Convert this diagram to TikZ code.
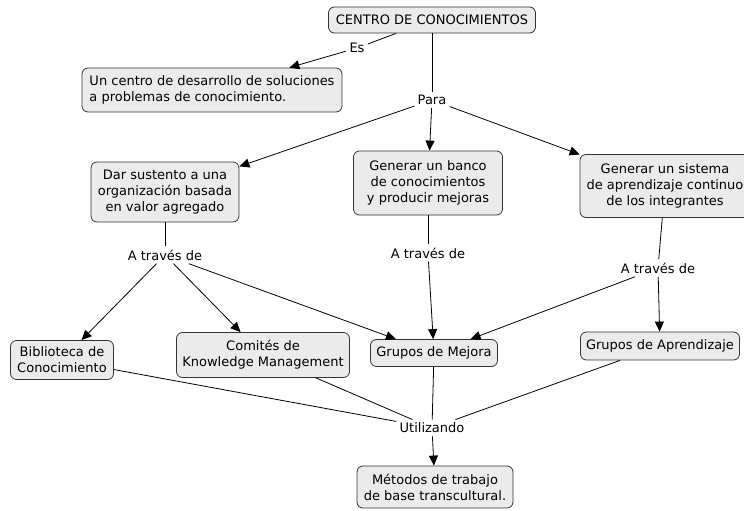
\documentclass[tikz,border=0pt]{standalone}
\usepackage{fontspec}
\setmainfont{DejaVu Sans}
\usetikzlibrary{arrows.meta}
\tikzset{
  concept/.style={draw=black!80, fill=black!8, rounded corners=6pt, align=center,
    inner xsep=4pt, inner ysep=4pt, line width=0.8pt},
  link/.style={inner sep=3pt},
  arr/.style={-{Triangle[length=10pt,width=9pt]}},
}
\begin{document}
\begin{tikzpicture}[x=1pt,y=-1pt, line width=0.8pt, font=\fontsize{13}{16}\selectfont]
  \useasboundingbox (0,0) rectangle (744,511);
  \node[concept, minimum width=207pt, minimum height=26pt] (centro) at (432,20) {CENTRO DE CONOCIMIENTOS};
  \node[link] (es) at (357,48) {Es};
  \node[concept, align=left, minimum width=260pt, minimum height=44pt] (cdes) at (212,90) {Un centro de desarrollo de soluciones\\a problemas de conocimiento.};
  \node[link] (para) at (432,100) {Para};
  \node[concept, minimum width=148pt, minimum height=60pt] (dar) at (165,192) {Dar sustento a una\\organización basada\\en valor agregado};
  \node[concept, minimum width=149pt, minimum height=64pt] (banco) at (428,183) {Generar un banco\\de conocimientos\\y producir mejoras};
  \node[concept, minimum width=170pt, minimum height=63pt] (sist) at (665,186) {Generar un sistema\\de aprendizaje continuo\\de los integrantes};
  \node[link] (at1) at (165,255) {A través de};
  \node[link] (at2) at (428,253) {A través de};
  \node[link] (at3) at (658,268) {A través de};
  \node[concept, minimum width=103pt, minimum height=39pt] (biblio) at (62,360) {Biblioteca de\\Conocimiento};
  \node[concept, minimum width=173pt, minimum height=45pt] (comite) at (263,355) {Comités de\\Knowledge Management};
  \node[concept, minimum width=127pt, minimum height=27pt] (mejora) at (434,353) {Grupos de Mejora};
  \node[concept, minimum width=159pt, minimum height=28pt] (aprend) at (660,346) {Grupos de Aprendizaje};
  \node[link] (util) at (432,428) {Utilizando};
  \node[concept, minimum width=156pt, minimum height=42pt] (metodo) at (435,487) {Métodos de trabajo\\de base transcultural.};

  \draw (centro) -- (es);
  \draw[arr] (es) -- (cdes);
  \draw (centro) -- (para);
  \draw[arr] (para) -- (dar);
  \draw[arr] (para) -- (banco);
  \draw[arr] (para) -- (sist);
  \draw (dar) -- (at1);
  \draw[arr] (at1) -- (biblio);
  \draw[arr] (at1) -- (comite);
  \draw[arr] (at1) -- (mejora);
  \draw (banco) -- (at2);
  \draw[arr] (at2) -- (mejora);
  \draw (sist) -- (at3);
  \draw[arr] (at3) -- (mejora);
  \draw[arr] (at3) -- (aprend);
  \draw (biblio) -- (util);
  \draw (comite) -- (util);
  \draw (mejora) -- (util);
  \draw (aprend) -- (util);
  \draw[arr] (util) -- (metodo);
\end{tikzpicture}
\end{document}
